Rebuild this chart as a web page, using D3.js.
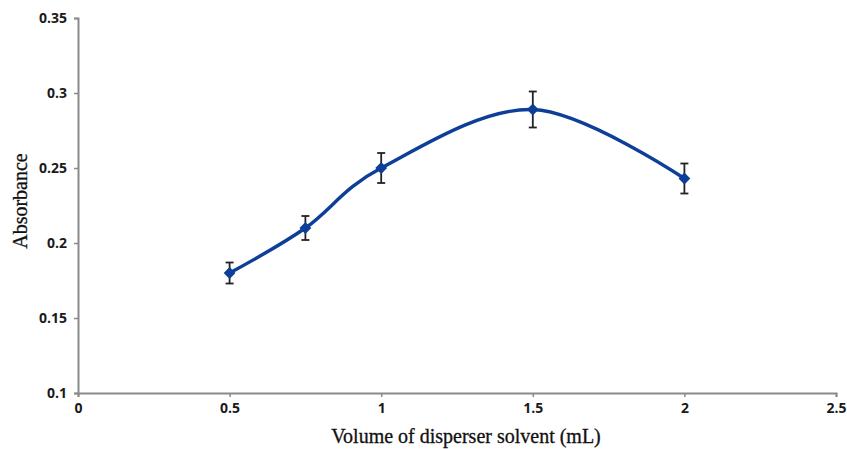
<!DOCTYPE html>
<html lang="en">
<head>
  <meta charset="UTF-8">
  <title>Absorbance vs volume of disperser solvent</title>
  <script src="https://d3js.org/d3.v7.min.js"></script>
  <style>
    body { margin: 0; background: #fff; }
    .tick text { font-family: 'Open Sans', sans-serif; font-weight: 700; font-size: 14px; fill: #1a1a1a; }
    .axis-title { font-family: 'Liberation Serif', 'Times New Roman', serif; font-size: 20px; fill: #111; stroke: #111; stroke-width: 0.3; }
  </style>
</head>
<body>
  <div id="chart"></div>

  <script>
    // data
    const volumes = [0.5, 0.75, 1, 1.5, 2];
    const absorbance = [0.180, 0.210, 0.250, 0.289, 0.243];
    const errors = [0.007, 0.008, 0.010, 0.012, 0.010];
    const xTicks = [0, 0.5, 1, 1.5, 2, 2.5];
    const yTicks = [0.1, 0.15, 0.2, 0.25, 0.3, 0.35];

    const W = 847, H = 449;
    const margin = { top: 18, right: 11, bottom: 56, left: 78 };
    const width = W - margin.left - margin.right,
          height = H - margin.top - margin.bottom;

    const svg = d3.select("#chart")
      .append("svg")
      .attr("width", W)
      .attr("height", H)
      .append("g")
      .attr("transform", `translate(${margin.left},${margin.top})`);

    const x = d3.scaleLinear().domain([0, 2.5]).range([0, width]);
    const y = d3.scaleLinear().domain([0.1, 0.35]).range([height, 0]);

    const data = volumes.map((v, i) => ({ v, a: absorbance[i], e: errors[i] }));

    // axes
    const xAxis = svg.append("g")
      .attr("transform", `translate(0,${height})`)
      .call(d3.axisBottom(x).tickValues(xTicks).tickFormat(d3.format("")).tickSize(4).tickPadding(6));

    const yAxis = svg.append("g")
      .call(d3.axisLeft(y).tickValues(yTicks).tickFormat(d3.format("")).tickSize(4).tickPadding(7));

    [xAxis, yAxis].forEach(a => {
      a.select(".domain").attr("stroke", "#8a8a8a").attr("stroke-width", 2);
      a.selectAll(".tick line").attr("stroke", "#8a8a8a").attr("stroke-width", 1.5);
    });

    // smoothed line
    const line = d3.line()
      .x(d => x(d.v))
      .y(d => y(d.a))
      .curve(d3.curveCardinal.tension(0));

    svg.append("path")
      .datum(data)
      .attr("fill", "none")
      .attr("stroke", "#0d3f98")
      .attr("stroke-width", 3.4)
      .attr("d", line);

    // error bars
    const eb = svg.append("g").attr("stroke", "#222").attr("stroke-width", 1.8);
    data.forEach(d => {
      const cx = x(d.v);
      eb.append("line").attr("x1", cx).attr("x2", cx).attr("y1", y(d.a + d.e)).attr("y2", y(d.a - d.e));
      eb.append("line").attr("x1", cx - 4).attr("x2", cx + 4).attr("y1", y(d.a + d.e)).attr("y2", y(d.a + d.e));
      eb.append("line").attr("x1", cx - 4).attr("x2", cx + 4).attr("y1", y(d.a - d.e)).attr("y2", y(d.a - d.e));
    });

    // diamond markers
    svg.selectAll(".marker")
      .data(data)
      .enter()
      .append("path")
      .attr("class", "marker")
      .attr("transform", d => `translate(${x(d.v)},${y(d.a)}) rotate(45)`)
      .attr("d", d3.symbol().type(d3.symbolSquare).size(70))
      .attr("fill", "#0d3f98");

    // axis titles
    svg.append("text")
      .attr("class", "axis-title")
      .attr("x", 466 - margin.left)
      .attr("y", 443 - margin.top)
      .attr("text-anchor", "middle")
      .text("Volume of disperser solvent (mL)");

    svg.append("text")
      .attr("class", "axis-title")
      .attr("transform", `translate(${27 - margin.left},${201 - margin.top}) rotate(-90)`)
      .attr("text-anchor", "middle")
      .text("Absorbance");
  </script>
</body>
</html>
